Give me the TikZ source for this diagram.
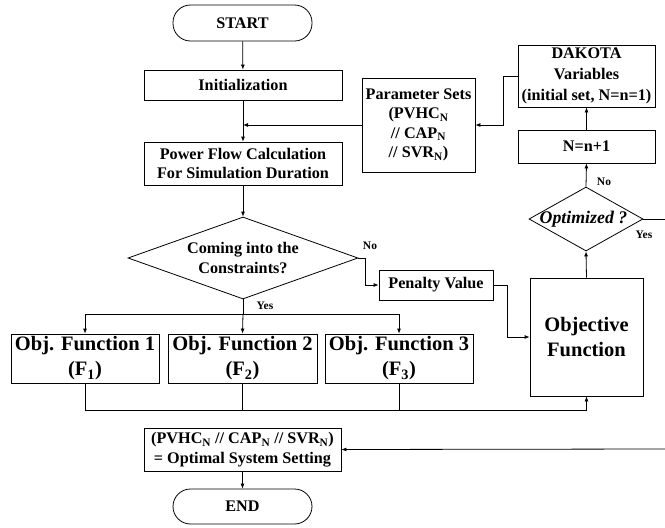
\documentclass[tikz,border=0pt]{standalone}
\usepackage{fontspec}
\setmainfont{Liberation Serif}
\usetikzlibrary{shapes.geometric,arrows.meta,calc}
\newcommand{\myfn}{\fontsize{16.2}{19.5}\selectfont\bfseries}
\newcommand{\myfnd}{\fontsize{16.2}{21}\selectfont\bfseries}
\newcommand{\myfopt}{\fontsize{17.8}{20}\selectfont\bfseries\itshape}
\newcommand{\myfbig}{\fontsize{20.5}{25}\selectfont\bfseries}
\newcommand{\myflab}{\fontsize{11.5}{13}\selectfont\bfseries}
\begin{document}
\begin{tikzpicture}[x=1pt,y=-1pt,line width=0.8pt,
  box/.style={draw,inner sep=0pt,align=center,font=\myfn},
  term/.style={draw,inner sep=0pt,align=center,font=\myfn,rounded corners=17.5pt},
  dec/.style={draw,shape=diamond,inner sep=0pt},
  txt/.style={align=center,font=\myfn,inner sep=0pt},
  lab/.style={font=\myflab,inner sep=0pt},
  arr/.style={-{Latex[length=5pt,width=4pt]}}]
\useasboundingbox (0,0) rectangle (665,528);
% nodes
\node[term,minimum width=139pt,minimum height=36pt] (start) at (242.5,23) {START};
\node[box,minimum width=198pt,minimum height=30pt] (init) at (243,85) {Initialization};
\node[box,minimum width=198pt,minimum height=43pt] (pf) at (243,163.5) {Power Flow Calculation\\For Simulation Duration};
\node[box,minimum width=113pt,minimum height=94pt] (par) at (418.5,125) {Parameter Sets\\(PVHC\textsubscript{N}\\// CAP\textsubscript{N}\\// SVR\textsubscript{N})};
\node[box,font=\myfnd,minimum width=137pt,minimum height=62pt] (dak) at (586.5,76) {DAKOTA\\Variables\\(initial set, N=n=1)};
\node[box,minimum width=137pt,minimum height=33pt] (nn) at (586.5,146.5) {N=n+1};
\node[dec,minimum width=114pt,minimum height=64pt] (opt) at (586,219) {};
\node[txt,font=\myfopt] (optt) at (583.5,219) {Optimized ?};
\node[dec,minimum width=230pt,minimum height=82pt] (cons) at (243,258) {};
\node[txt] (const) at (cons) {Coming into the\\Constraints?};
\node[box,minimum width=114pt,minimum height=30pt] (pen) at (436,285) {Penalty Value};
\node[box,font=\myfbig,minimum width=113pt,minimum height=118pt] (obj) at (586.5,337) {Objective\\Function};
\node[box,font=\myfbig,minimum width=148pt,minimum height=49pt] (f1) at (85,358.5) {Obj. Function 1\\(F\textsubscript{1})};
\node[box,font=\myfbig,minimum width=149pt,minimum height=49pt] (f2) at (242.5,358.5) {Obj. Function 2\\(F\textsubscript{2})};
\node[box,font=\myfbig,minimum width=148pt,minimum height=49pt] (f3) at (399,358.5) {Obj. Function 3\\(F\textsubscript{3})};
\node[box,minimum width=197pt,minimum height=43pt] (fin) at (242.5,449.5) {(PVHC\textsubscript{N} // CAP\textsubscript{N} // SVR\textsubscript{N})\\= Optimal System Setting};
\node[term,minimum width=139pt,minimum height=35pt] (end) at (242.5,506.5) {END};
% labels
\node[lab] (lno1) at (604,182) {No};
\node[lab] (lyes1) at (644,235) {Yes};
\node[lab] (lno2) at (370,246) {No};
\node[lab] (lyes2) at (265,306) {Yes};
% coordinates
\coordinate (j1) at (243,125);
\coordinate (k1) at (503,76);
\coordinate (yesend) at (665,219);
\coordinate (br) at (243,314);
\coordinate (n1) at (365,258);
\coordinate (p1) at (507,285);
\coordinate (b1) at (85,410);
\coordinate (ret) at (665,449);
% connectors
\draw[arr] (start) -- (init);
\draw[arr] (init) -- (pf);
\draw[arr] (par.west) -- (j1);
\draw[arr] (dak.west) -- (k1) |- (par.east);
\draw[arr] (nn) -- (dak);
\draw[arr] (opt.north) -- (nn.south);
\draw (opt.east) -- (yesend);
\draw[arr] (obj.north) -- (opt.south);
\draw[arr] (pf.south) -- (cons.north);
\draw (cons.south) -- (br);
\draw (f1.north |- br) -- (f3.north |- br);
\draw[arr] (f1.north |- br) -- (f1.north);
\draw[arr] (br) -- (f2.north);
\draw[arr] (f3.north |- br) -- (f3.north);
\draw[arr] (cons.east) -- (n1) |- (pen.west);
\draw[arr] (pen.east) -- (p1) |- (obj.west);
\draw (f1.south) -- (b1) -- (obj.south |- b1);
\draw[arr] (obj.south |- b1) -- (obj.south);
\draw (f2.south) -- (f2.south |- b1);
\draw (f3.south) -- (f3.south |- b1);
\draw[arr] (ret) -- (fin.east);
\draw[arr] (fin) -- (end);
\end{tikzpicture}
\end{document}
